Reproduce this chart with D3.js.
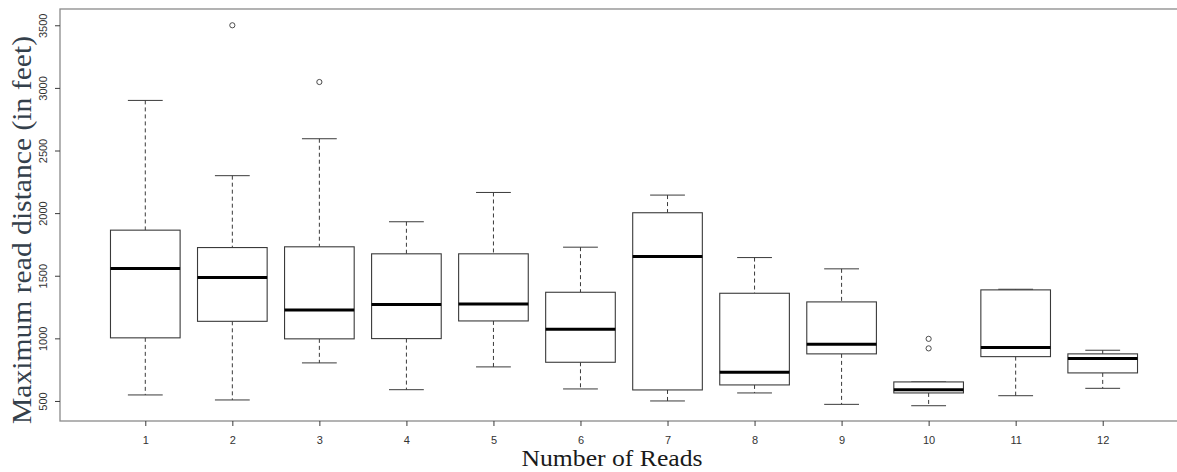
<!DOCTYPE html>
<html>
<head>
<meta charset="utf-8">
<script src="https://cdn.jsdelivr.net/npm/d3@7"></script>
<style>
  body { margin: 0; background: #fff; }
  svg { display: block; }
</style>
</head>
<body>
<svg width="1177" height="472"></svg>
<script>
// number of reads (groups)
let groups = [1, 2, 3, 4, 5, 6, 7, 8, 9, 10, 11, 12];
// five-number summaries (feet)
let whiskerLow = [548, 508, 804, 590, 772, 596, 500, 564, 473, 462, 542, 601];
let q1 = [1004, 1136, 996, 998, 1139, 809, 588, 628, 876, 564, 854, 724];
let medians = [1558, 1486, 1227, 1270, 1275, 1072, 1653, 729, 952, 590, 926, 840];
let q3 = [1864, 1725, 1731, 1675, 1675, 1368, 2003, 1360, 1291, 652, 1387, 876];
let whiskerHigh = [2900, 2299, 2594, 1931, 2165, 1728, 2144, 1645, 1555, 652, 1392, 905];
let outliers = [[], [3500], [3047], [], [], [], [], [], [], [996, 920], [], []];
let yTicks = [500, 1000, 1500, 2000, 2500, 3000, 3500];

let svg = d3.select("svg");

let plotLeft = 60,
  plotTop = 9,
  plotBottom = 421,
  plotRight = 1188;

let x = d3.scaleLinear().domain([0.02, 12.98]).range([plotLeft, plotRight]);
let y = d3.scaleLinear().domain([340, 3630]).range([plotBottom, plotTop]);

let boxes = groups.map((g, i) => ({
  g: g,
  lo: whiskerLow[i],
  q1: q1[i],
  med: medians[i],
  q3: q3[i],
  hi: whiskerHigh[i],
  out: outliers[i],
}));

const boxHalf = 0.4;
const capHalf = 0.2;
const lineColor = "#3a3a3a";

// frame
svg
  .append("rect")
  .attr("x", plotLeft)
  .attr("y", plotTop)
  .attr("width", plotRight - plotLeft)
  .attr("height", plotBottom - plotTop)
  .attr("fill", "none")
  .attr("stroke", "#8a8a8a")
  .attr("stroke-width", 1.3);

let box = svg
  .selectAll("g.box")
  .data(boxes)
  .enter()
  .append("g")
  .attr("class", "box");

// whiskers (dashed)
box
  .append("line")
  .attr("x1", (d) => x(d.g))
  .attr("x2", (d) => x(d.g))
  .attr("y1", (d) => y(d.hi))
  .attr("y2", (d) => y(d.q3))
  .attr("stroke", lineColor)
  .attr("stroke-dasharray", "4,3");
box
  .append("line")
  .attr("x1", (d) => x(d.g))
  .attr("x2", (d) => x(d.g))
  .attr("y1", (d) => y(d.q1))
  .attr("y2", (d) => y(d.lo))
  .attr("stroke", lineColor)
  .attr("stroke-dasharray", "4,3");

// staples
box
  .append("line")
  .attr("x1", (d) => x(d.g - capHalf))
  .attr("x2", (d) => x(d.g + capHalf))
  .attr("y1", (d) => y(d.hi))
  .attr("y2", (d) => y(d.hi))
  .attr("stroke", lineColor);
box
  .append("line")
  .attr("x1", (d) => x(d.g - capHalf))
  .attr("x2", (d) => x(d.g + capHalf))
  .attr("y1", (d) => y(d.lo))
  .attr("y2", (d) => y(d.lo))
  .attr("stroke", lineColor);

// box
box
  .append("rect")
  .attr("x", (d) => x(d.g - boxHalf))
  .attr("width", (d) => x(d.g + boxHalf) - x(d.g - boxHalf))
  .attr("y", (d) => y(d.q3))
  .attr("height", (d) => y(d.q1) - y(d.q3))
  .attr("fill", "#fff")
  .attr("stroke", lineColor)
  .attr("stroke-width", 1.1);

// median
box
  .append("line")
  .attr("x1", (d) => x(d.g - boxHalf))
  .attr("x2", (d) => x(d.g + boxHalf))
  .attr("y1", (d) => y(d.med))
  .attr("y2", (d) => y(d.med))
  .attr("stroke", "#000")
  .attr("stroke-width", 3);

// outliers
box
  .selectAll("circle")
  .data((d) => d.out.map((v) => ({ g: d.g, v: v })))
  .enter()
  .append("circle")
  .attr("cx", (d) => x(d.g))
  .attr("cy", (d) => y(d.v))
  .attr("r", 2.6)
  .attr("fill", "none")
  .attr("stroke", lineColor)
  .attr("stroke-width", 0.9);

// axes
let yAxis = svg
  .append("g")
  .attr("transform", `translate(${plotLeft},0)`)
  .call(d3.axisLeft(y).tickValues(yTicks).tickFormat(d3.format("d")).tickSize(5));
yAxis.select(".domain").remove();
yAxis.selectAll("line").attr("stroke", lineColor);
yAxis
  .selectAll("text")
  .attr("transform", "rotate(-90)")
  .attr("x", 0)
  .attr("y", -13)
  .attr("dy", 0)
  .attr("text-anchor", "middle")
  .attr("fill", "#333")
  .style("font-family", "'Liberation Sans', Arial, sans-serif")
  .style("font-size", "11px");

let xAxis = svg
  .append("g")
  .attr("transform", `translate(0,${plotBottom})`)
  .call(d3.axisBottom(x).tickValues(groups).tickSize(5).tickPadding(10));
xAxis.select(".domain").remove();
xAxis.selectAll("line").attr("stroke", lineColor);
xAxis
  .selectAll("text")
  .attr("fill", "#333")
  .style("font-family", "'Liberation Sans', Arial, sans-serif")
  .style("font-size", "11px");

// axis titles
svg
  .append("text")
  .attr("transform", "translate(31,230) rotate(-90)")
  .attr("text-anchor", "middle")
  .attr("textLength", 388)
  .attr("lengthAdjust", "spacingAndGlyphs")
  .attr("fill", "#34404b")
  .style("font-family", "'Liberation Serif', 'Times New Roman', serif")
  .style("font-size", "28px")
  .text("Maximum read distance (in feet)");

svg
  .append("text")
  .attr("x", 612)
  .attr("y", 466)
  .attr("text-anchor", "middle")
  .attr("textLength", 181)
  .attr("lengthAdjust", "spacingAndGlyphs")
  .attr("fill", "#1a1a1a")
  .style("font-family", "'Liberation Serif', 'Times New Roman', serif")
  .style("font-size", "24px")
  .text("Number of Reads");
</script>
</body>
</html>
